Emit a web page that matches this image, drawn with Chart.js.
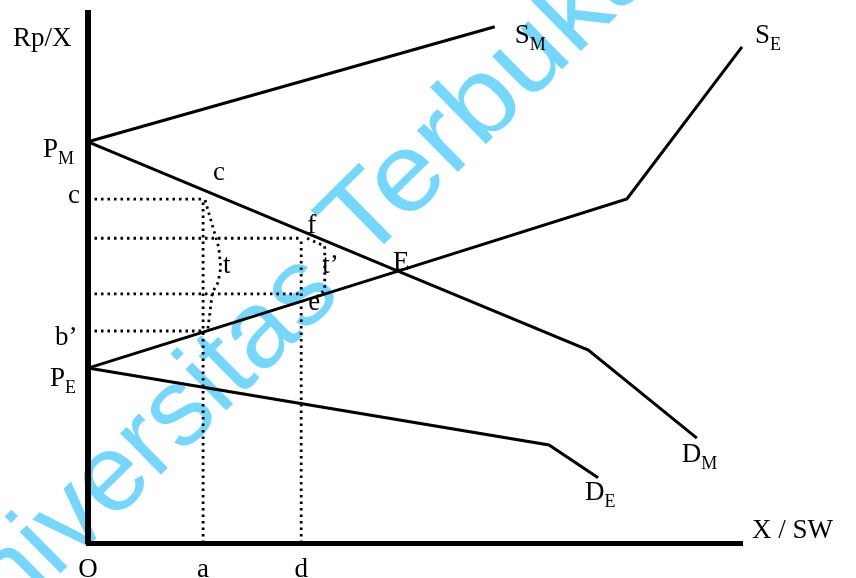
<!DOCTYPE html>
<html>
<head>
<meta charset="utf-8">
<script src="https://cdn.jsdelivr.net/npm/chart.js@4.4.1/dist/chart.umd.min.js"></script>
<style>
  html, body { margin: 0; padding: 0; background: #fff; }
  #chart { display: block; }
</style>
</head>
<body>
<canvas id="chart" width="856" height="578"></canvas>
<script>
// curves (x = X/SW, y = Rp/X)
const smX = [0, 62.2];
const smY = [75.7, 97.4];
const dmX = [0, 47.4, 76.5, 93.1];
const dmY = [75.7, 51.3, 36.4, 19.8];
const seX = [0, 47.4, 82.4, 100];
const seY = [33.0, 51.3, 64.9, 93.6];
const deX = [0, 70.5, 78.0];
const deY = [33.0, 18.5, 12.3];

// guide levels
const xTickValues = [0, 17.6, 32.6];
const xTickLabels = ['O', 'a', 'd'];
const levelC = 64.9, levelF = 57.5, levelE = 47.0, levelB = 40.0;

// curly brackets t and t'
const braceTX = [17.9, 19.0, 20.0, 20.3, 19.9, 19.0, 18.7, 18.3];
const braceTY = [64.7, 60.0, 55.7, 51.9, 49.2, 47.2, 44.0, 40.2];
const braceT2X = [33.5, 36.2, 36.2, 34.9];
const braceT2Y = [57.5, 56.0, 47.7, 46.4];

function pts(xs, ys) {
    return xs.map(function (x, i) { return { x: x, y: ys[i] }; });
}

const aX = xTickValues[1], dX = xTickValues[2];

function solid(data) {
    return { data: data, showLine: true, borderColor: '#000', borderWidth: 3, pointRadius: 0, tension: 0, clip: false };
}
function dotted(data) {
    return { data: data, showLine: true, borderColor: '#000', borderWidth: 2.8, borderDash: [2.5, 4], pointRadius: 0, tension: 0, clip: false };
}

const datasets = [
    solid(pts(smX, smY)),
    solid(pts(dmX, dmY)),
    solid(pts(seX, seY)),
    solid(pts(deX, deY)),
    dotted(pts([0, aX], [levelC, levelC])),
    dotted(pts([0, dX], [levelF, levelF])),
    dotted(pts([0, dX], [levelE, levelE])),
    dotted(pts([0, aX], [levelB, levelB])),
    dotted(pts([aX, aX], [0, levelC])),
    dotted(pts([dX, dX], [0, levelF])),
    dotted(pts(braceTX, braceTY)),
    dotted(pts(braceT2X, braceT2Y))
];

// text labels: anchor in data units + pixel offset to left/baseline
const last = function (a) { return a[a.length - 1]; };
const labels = [
    { t: 'Rp/X', x: 0, y: 100, dx: -75, dy: 33 },
    { t: 'P', s: 'M', x: 0, y: smY[0], dx: -45, dy: 15 },
    { t: 'c', x: 0, y: levelC, dx: -20, dy: 4 },
    { t: 'c', x: aX, y: levelC, dx: 10, dy: -19 },
    { t: 'f', x: dX, y: levelF, dx: 6, dy: -5 },
    { t: 't', x: aX, y: levelE, dx: 20, dy: -21 },
    { t: 't\u2019', x: dX, y: levelE, dx: 21, dy: -21 },
    { t: 'E', x: dmX[1], y: dmY[1], dx: -5, dy: -1 },
    { t: 'e', x: dX, y: levelE, dx: 7, dy: 16 },
    { t: 'b\u2019', x: 0, y: levelB, dx: -33, dy: 14 },
    { t: 'P', s: 'E', x: 0, y: seY[0], dx: -38, dy: 18 },
    { t: 'S', s: 'M', x: last(smX), y: last(smY), dx: 20, dy: 16 },
    { t: 'S', s: 'E', x: last(seX), y: last(seY), dx: 13, dy: -4 },
    { t: 'D', s: 'M', x: last(dmX), y: last(dmY), dx: -15, dy: 24 },
    { t: 'D', s: 'E', x: last(deX), y: last(deY), dx: -13, dy: 22 },
    { t: 'X / SW', x: 100, y: 0, dx: 10, dy: -5 }
];

// watermark words: baseline start, horizontal stretch
const watermark = [
    { t: 'Universitas', x: -45, y: 677, sx: 1.0 },
    { t: 'Terbuka', x: 362, y: 266, sx: 1.085 }
];

const textPlugin = {
    id: 'textPlugin',
    afterDatasetsDraw: function (chart) {
        const ctx = chart.ctx, xs = chart.scales.x, ys = chart.scales.y;
        ctx.save();
        ctx.fillStyle = '#000';
        ctx.textBaseline = 'alphabetic';
        labels.forEach(function (l) {
            const px = xs.getPixelForValue(l.x) + l.dx;
            const py = ys.getPixelForValue(l.y) + l.dy;
            ctx.font = '27px "Liberation Serif"';
            ctx.textAlign = 'left';
            ctx.fillText(l.t, px, py);
            if (l.s) {
                const w = ctx.measureText(l.t).width;
                ctx.font = '18px "Liberation Serif"';
                ctx.fillText(l.s, px + w, py + 7);
            }
        });
        // axis letters under the x axis
        ctx.font = '27px "Liberation Serif"';
        ctx.textAlign = 'center';
        xTickValues.forEach(function (v, i) {
            ctx.fillText(xTickLabels[i], xs.getPixelForValue(v), ys.getPixelForValue(0) + 34);
        });
        ctx.restore();
    },
    afterDraw: function (chart) {
        const ctx = chart.ctx;
        ctx.save();
        ctx.globalCompositeOperation = 'multiply';
        ctx.fillStyle = 'rgb(116, 215, 251)';
        ctx.font = '110px "Liberation Sans"';
        ctx.textAlign = 'left';
        ctx.textBaseline = 'alphabetic';
        watermark.forEach(function (w) {
            ctx.save();
            ctx.translate(w.x, w.y);
            ctx.rotate(-44.5 * Math.PI / 180);
            ctx.scale(w.sx, 1);
            ctx.fillText(w.t, 0, 0);
            ctx.restore();
        });
        ctx.restore();
    }
};

new Chart(document.getElementById('chart').getContext('2d'), {
    type: 'scatter',
    data: { datasets: datasets },
    options: {
        responsive: false,
        animation: false,
        layout: { padding: { left: 88, right: 114, top: 13, bottom: 35 } },
        plugins: { legend: { display: false }, tooltip: { enabled: false } },
        scales: {
            x: {
                type: 'linear', min: 0, max: 100,
                grid: { display: false, drawTicks: false },
                ticks: { display: false },
                border: { display: true, color: '#000', width: 5 }
            },
            y: {
                type: 'linear', min: 0, max: 100,
                grid: { display: false, drawTicks: false },
                ticks: { display: false },
                border: { display: true, color: '#000', width: 6 }
            }
        }
    },
    plugins: [textPlugin]
});
</script>
</body>
</html>
